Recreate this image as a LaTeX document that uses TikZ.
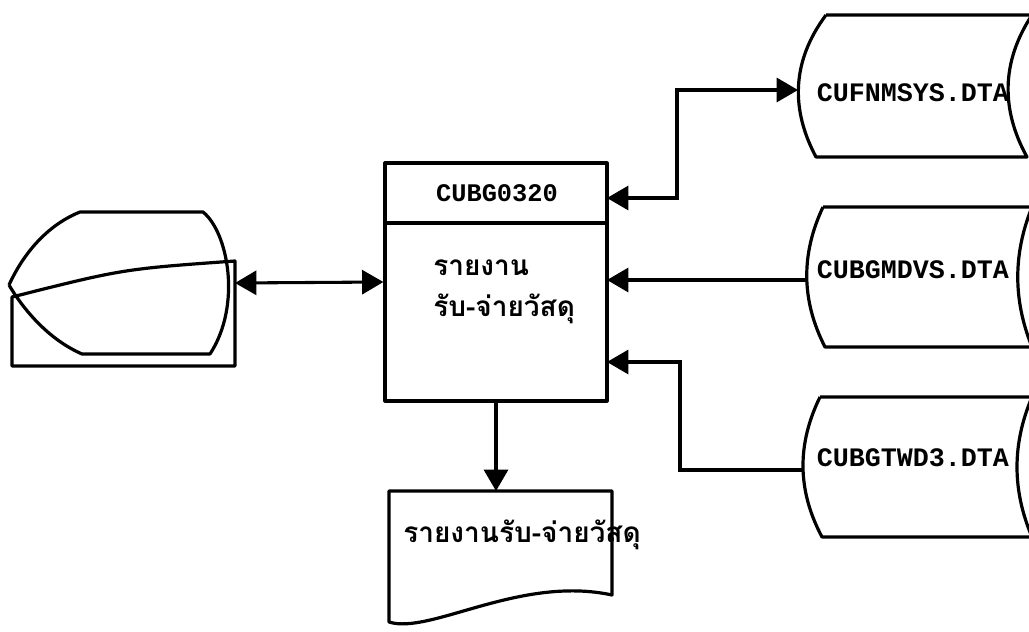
\documentclass[tikz,border=0pt]{standalone}
\usepackage{fontspec}
\newfontfamily\thaifont[Script=Thai]{Loma}
\newfontfamily\monofont{Liberation Mono}
\usetikzlibrary{arrows.meta}
\tikzset{
  shp/.style={line width=2.4pt, line join=round},
  conn/.style={line width=2.3pt},
  tip/.style={-{Triangle[length=16pt,width=18pt]}},
  dtip/.style={{Triangle[length=16pt,width=18pt]}-{Triangle[length=16pt,width=18pt]}},
  mono/.style={font=\monofont\bfseries\fontsize{20}{24}\selectfont, inner sep=0pt},
  thai/.style={font=\thaifont\bfseries\fontsize{21}{31}\selectfont, inner sep=0pt}
}
\begin{document}
\begin{tikzpicture}[x=0.75pt,y=-0.75pt]
\useasboundingbox (0,0) rectangle (1029,632);
\fill[white] (0,0) rectangle (1029,632);
\clip (0,0) rectangle (1029,632);

% display / terminal
\draw[shp] (9,285) .. controls (25,250) and (50,224) .. (80,212) -- (203,212)
  .. controls (228,232) and (242,305) .. (210,354) -- (82,354)
  .. controls (50,340) and (25,312) .. (9,285);
% manual input
\draw[shp] (12,297) .. controls (123,269) .. (235,261) -- (235,366) -- (12,366) -- cycle;
\coordinate (dispr) at (235,283);

% main process box
\node[shp, draw, minimum width=166.5pt, minimum height=178.5pt, inner sep=0pt] (main) at (496,282) {};
\draw[shp] (main.west |- 0,223) -- (main.east |- 0,223);
\node[mono, font=\monofont\bfseries\fontsize{19}{23}\selectfont] (title) at (497,193) {CUBG0320};
\node[thai, anchor=west, align=left] (mtext) at (433,292) {รายงาน\\รับ-จ่ายวัสดุ};

% document
\draw[shp] (389,491) -- (612,491) -- (612,595)
  .. controls (520,575) and (430,635) .. (389,622) -- cycle;
\coordinate (doctop) at (496,491);
\node[thai] (dtext) at (522,535) {รายงานรับ-จ่ายวัสดุ};

% stored data 1
\draw[shp] (826,15) -- (1032,15) .. controls (1001,62) and (1001,110) .. (1027,157)
  -- (816,157) .. controls (791,110) and (791,62) .. (826,15);
\coordinate (s1w) at (798,90);
\node[mono] (t1) at (913,93) {CUFNMSYS.DTA};

% stored data 2
\draw[shp] (823,207) -- (1032,207) .. controls (1013,254) and (1013,300) .. (1032,347)
  -- (825,347) .. controls (801,300) and (801,254) .. (823,207);
\coordinate (s2w) at (807,280);
\node[mono] (t2) at (913,270) {CUBGMDVS.DTA};

% stored data 3
\draw[shp] (820,397) -- (1032,397) .. controls (1012,444) and (1012,490) .. (1032,537)
  -- (822,537) .. controls (797,490) and (797,444) .. (820,397);
\coordinate (s3w) at (803,470);
\node[mono] (t3) at (913,458) {CUBGTWD3.DTA};

% connector anchor points on main box
\coordinate (p1) at (607,198);
\coordinate (p2) at (607,280);
\coordinate (p3) at (607,362);
\coordinate (v1) at (677,0);
\coordinate (v3) at (680,0);

% connectors
\draw[conn, dtip] (dispr) -- (main.west);
\draw[conn, dtip] (p1) -- (v1 |- p1) -- (v1 |- s1w) -- (s1w);
\draw[conn, tip] (s2w) -- (p2);
\draw[conn, tip] (s3w) -- (v3 |- s3w) -- (v3 |- p3) -- (p3);
\draw[conn, tip] (main.south) -- (doctop);
\end{tikzpicture}
\end{document}
